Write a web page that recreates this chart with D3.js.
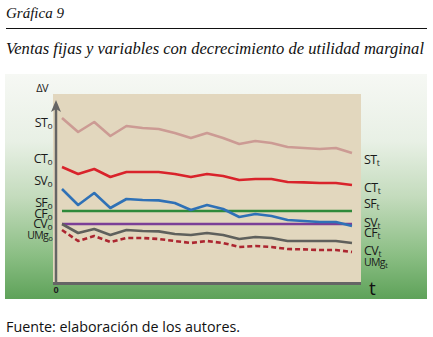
<!DOCTYPE html>
<html>
<head>
<meta charset="utf-8">
<script src="https://cdn.jsdelivr.net/npm/d3@7"></script>
<style>
  html, body { margin: 0; padding: 0; background: #fff; }
  svg { display: block; }
</style>
</head>
<body>
<svg id="chart" width="433" height="337"></svg>
<script>
// Periods along the time axis (0 … t)
const periods = d3.range(19);

// ΔV values per period for each curve
const ventasTotales   = [82.5, 75.5, 80.5, 73.5, 78.5, 77.5, 77, 75, 72.5, 75, 72.5, 69.5, 71, 70, 68, 67.5, 67, 67.5, 65];
const costosTotales   = [58, 54.5, 57, 53, 55.5, 55.5, 55.5, 54.5, 53, 54.5, 53.5, 51.5, 52, 52, 50.5, 50.3, 50, 50, 49];
const ventasVariables = [47, 39, 45, 37.5, 42, 41.5, 41.3, 40, 36.5, 39, 37, 33, 34.5, 33.5, 31.5, 31, 30.5, 30.5, 28.5];
const ventasFijas     = 36;
const costosVariablesNivel = 29.5;
const costosFijos     = [29.5, 25, 27, 24, 26.5, 26, 25.8, 24.5, 24, 25, 24, 22, 23, 22.5, 21, 21, 21, 21, 20];
const utilidadMarginal = [26.5, 21, 23.5, 20.5, 22.5, 22.5, 22, 21, 20, 21, 20, 18, 18.5, 18, 17, 16.8, 16.5, 16.5, 15.5];

// Curve labels at the start (o) and end (t) of the period
const leftLabels = [
  { base: "ST", sub: "o", v: 80.5 },
  { base: "CT", sub: "o", v: 62.5 },
  { base: "SV", sub: "o", v: 51.5 },
  { base: "SF", sub: "o", v: 40.5 },
  { base: "CF", sub: "o", v: 35 },
  { base: "CV", sub: "o", v: 30 },
  { base: "UMg", sub: "o", v: 24, small: true }
];
const rightLabels = [
  { base: "ST", sub: "t", v: 62 },
  { base: "CT", sub: "t", v: 48 },
  { base: "SF", sub: "t", v: 40 },
  { base: "SV", sub: "t", v: 30.5 },
  { base: "CF", sub: "t", v: 25.5 },
  { base: "CV", sub: "t", v: 16.5 },
  { base: "UMg", sub: "t", v: 10.5, small: true }
];

const svg = d3.select("#chart");

// Headings
svg.append("text")
  .attr("x", 6).attr("y", 18)
  .attr("font-family", "Liberation Serif, serif")
  .attr("font-style", "italic")
  .attr("font-size", 15)
  .attr("fill", "#111")
  .text("Gráfica 9");

svg.append("line")
  .attr("x1", 6).attr("x2", 427)
  .attr("y1", 28.5).attr("y2", 28.5)
  .attr("stroke", "#111").attr("stroke-width", 1.2);

svg.append("text")
  .attr("x", 6).attr("y", 54)
  .attr("font-family", "Liberation Serif, serif")
  .attr("font-style", "italic")
  .attr("font-size", 17)
  .attr("fill", "#111")
  .attr("textLength", 418)
  .attr("lengthAdjust", "spacingAndGlyphs")
  .text("Ventas fijas y variables con decrecimiento de utilidad marginal");

// Panel with vertical green gradient
const defs = svg.append("defs");
const grad = defs.append("linearGradient")
  .attr("id", "panelGrad")
  .attr("x1", 0).attr("y1", 0).attr("x2", 0).attr("y2", 1);
[
  [0, "#f6f8f4"], [0.3, "#e8f0e5"], [0.55, "#c3dbbc"],
  [0.8, "#8cbf85"], [1, "#5ea259"]
].forEach(([o, c]) => grad.append("stop").attr("offset", o).attr("stop-color", c));

svg.append("rect")
  .attr("x", 5).attr("y", 74)
  .attr("width", 422).attr("height", 225)
  .attr("fill", "url(#panelGrad)");

// Plot area
const plot = { left: 53, right: 361, top: 94, bottom: 283 };
svg.append("rect")
  .attr("x", plot.left).attr("y", plot.top)
  .attr("width", plot.right - plot.left)
  .attr("height", plot.bottom - plot.top)
  .attr("fill", "#e2d7be");

const x = d3.scaleLinear().domain([0, 18]).range([62, 352]);
const y = d3.scaleLinear().domain([0, 94]).range([283, 95]);

const line = d3.line()
  .x((d, i) => x(periods[i]))
  .y(d => y(d));

const curves = [
  { data: ventasTotales, color: "#cc9b94", width: 2.6 },
  { data: costosTotales, color: "#d9232b", width: 2.6 },
  { data: costosFijos, color: "#5f605c", width: 2.6 },
  { data: utilidadMarginal, color: "#ac2630", width: 2.6, dash: "5,3" }
];

// Horizontal levels (fixed sales, variable cost level)
svg.append("line")
  .attr("x1", x(0)).attr("x2", x(18))
  .attr("y1", y(ventasFijas)).attr("y2", y(ventasFijas))
  .attr("stroke", "#2f8a3b").attr("stroke-width", 2.4);

svg.append("line")
  .attr("x1", x(0)).attr("x2", x(18))
  .attr("y1", y(costosVariablesNivel)).attr("y2", y(costosVariablesNivel))
  .attr("stroke", "#7b3f97").attr("stroke-width", 2.4);

curves.forEach(c => {
  svg.append("path")
    .datum(c.data)
    .attr("d", line)
    .attr("fill", "none")
    .attr("stroke", c.color)
    .attr("stroke-width", c.width)
    .attr("stroke-linejoin", "round")
    .attr("stroke-dasharray", c.dash || null);
});

svg.append("path")
  .datum(ventasVariables)
  .attr("d", line)
  .attr("fill", "none")
  .attr("stroke", "#2f71b6")
  .attr("stroke-width", 2.6)
  .attr("stroke-linejoin", "round");

// Axes
const axisColor = "#656565";
svg.append("line")
  .attr("x1", plot.left).attr("x2", plot.right)
  .attr("y1", 283.5).attr("y2", 283.5)
  .attr("stroke", axisColor).attr("stroke-width", 3);

svg.append("line")
  .attr("x1", 56).attr("x2", 56)
  .attr("y1", 285).attr("y2", 106)
  .attr("stroke", axisColor).attr("stroke-width", 2.5);

svg.append("path")
  .attr("d", "M56,100 L61,112 L56,109 L51,112 Z")
  .attr("fill", axisColor);

const labelFont = "Open Sans, Noto Sans, sans-serif";

svg.append("text")
  .attr("x", 56).attr("y", 293)
  .attr("text-anchor", "middle")
  .attr("font-family", labelFont)
  .attr("font-size", 9).attr("font-weight", "bold")
  .attr("fill", "#222")
  .text("0");

svg.append("text")
  .attr("x", 369).attr("y", 295)
  .attr("font-family", labelFont)
  .attr("font-size", 19)
  .attr("fill", "#111")
  .text("t");

svg.append("text")
  .attr("x", 48).attr("y", 92)
  .attr("text-anchor", "end")
  .attr("font-family", labelFont)
  .attr("font-size", 11)
  .attr("letter-spacing", -0.6)
  .attr("fill", "#222")
  .text("ΔV");

function drawLabel(l, xPos, anchor) {
  const size = l.small ? 10.5 : 12.5;
  const t = svg.append("text")
    .attr("x", xPos).attr("y", y(l.v) + size * 0.36)
    .attr("text-anchor", anchor)
    .attr("font-family", labelFont)
    .attr("font-size", size)
    .attr("letter-spacing", -0.7)
    .attr("fill", "#1a1a1a");
  t.append("tspan").text(l.base);
  t.append("tspan")
    .attr("font-size", size * 0.68)
    .attr("dy", size * 0.2)
    .attr("dx", 0.5)
    .text(l.sub);
}

leftLabels.forEach(l => drawLabel(l, 52, "end"));
rightLabels.forEach(l => drawLabel(l, 364, "start"));

// Source note
svg.append("text")
  .attr("x", 6).attr("y", 332)
  .attr("font-family", labelFont)
  .attr("font-size", 14)
  .attr("fill", "#111")
  .attr("textLength", 234)
  .attr("lengthAdjust", "spacingAndGlyphs")
  .text("Fuente: elaboración de los autores.");
</script>
</body>
</html>
